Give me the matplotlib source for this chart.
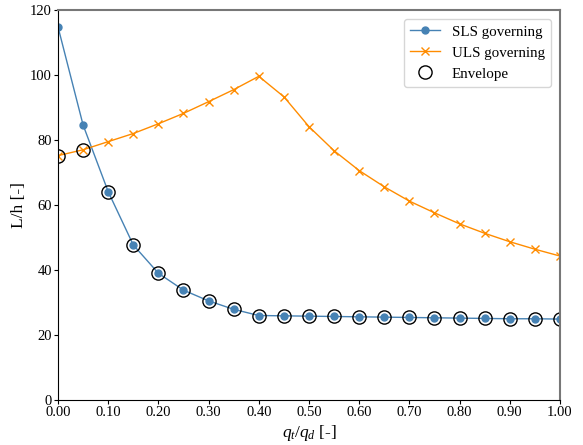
import numpy as np
import matplotlib
matplotlib.use("Agg")
import matplotlib.pyplot as plt
from matplotlib.ticker import FormatStrFormatter

plt.rcParams['font.family'] = ['Liberation Serif', 'DejaVu Serif']
plt.rcParams['mathtext.fontset'] = 'custom'
plt.rcParams['mathtext.rm'] = 'Liberation Serif'
plt.rcParams['mathtext.it'] = 'Liberation Serif:italic'

ratio = [0.00, 0.05, 0.10, 0.15, 0.20, 0.25, 0.30, 0.35, 0.40, 0.45, 0.50,
         0.55, 0.60, 0.65, 0.70, 0.75, 0.80, 0.85, 0.90, 0.95, 1.00]
sls = [114.8, 84.6, 64.1, 47.7, 39.0, 33.8, 30.5, 27.9, 26.0, 25.9, 25.8,
       25.7, 25.6, 25.5, 25.4, 25.3, 25.2, 25.1, 25.0, 25.0, 24.9]
uls = [75.2, 77.0, 79.5, 82.0, 85.0, 88.2, 91.8, 95.5, 99.6, 93.3, 84.1,
       76.7, 70.6, 65.6, 61.2, 57.6, 54.2, 51.3, 48.7, 46.4, 44.3]
envelope = list(np.minimum(sls, uls))

fig = plt.figure(figsize=(5.83, 4.45), dpi=100)
ax = fig.add_axes([0.0995, 0.1011, 0.861, 0.8764])

ax.plot(ratio, sls, color='#4682b4', marker='o', markersize=5, lw=1, label='SLS governing')
ax.plot(ratio, uls, color='#ff8c00', marker='x', markersize=6, lw=1, label='ULS governing')
ax.plot(ratio, envelope, linestyle='none', marker='o', markersize=9.5, markerfacecolor='none',
        markeredgecolor='black', markeredgewidth=1, label='Envelope')

ax.set_xlim(0, 1)
ax.set_ylim(0, 120)
ax.set_xticks(np.arange(0, 1.01, 0.1))
ax.xaxis.set_major_formatter(FormatStrFormatter('%.2f'))
ax.set_yticks(np.arange(0, 121, 20))
ax.tick_params(labelsize=10.5, length=3, pad=1.5)
ax.set_xlabel(r'$q_t/q_d$ [-]', fontsize=12.5, labelpad=3)
ax.set_ylabel('L/h [-]', fontsize=12.5, labelpad=2)
for s in ['top', 'right']:
    ax.spines[s].set_color('#777777')
    ax.spines[s].set_linewidth(1.5)
for s in ['left', 'bottom']:
    ax.spines[s].set_color('black')

ax.legend(loc='upper right', fontsize=10.8, borderaxespad=0.6)
fig.savefig('out.png', dpi=100)
